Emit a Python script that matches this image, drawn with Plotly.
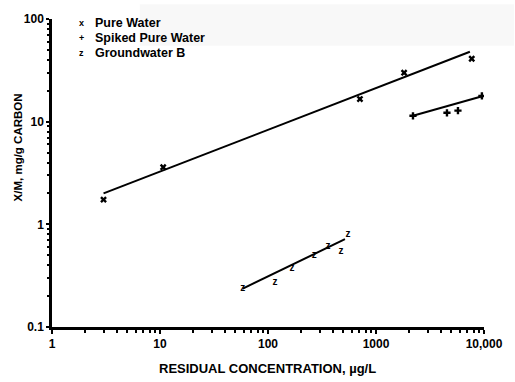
import plotly.graph_objects as go

# ---- data ----
pure_x = [3.0, 10.7, 710, 1820, 7700]
pure_y = [1.74, 3.6, 16.6, 30, 41]
pure_fit_x = [3.0, 7400]
pure_fit_y = [2.0, 48]

spiked_x = [2200, 4540, 5740, 9560]
spiked_y = [11.4, 12.2, 12.8, 17.8]
spiked_fit_x = [2200, 9800]
spiked_fit_y = [11.4, 17.8]

gw_x = [58.5, 116, 167, 268, 359, 474, 550]
gw_y = [0.237, 0.271, 0.369, 0.492, 0.614, 0.538, 0.80]
gw_fit_x = [58.5, 516]
gw_fit_y = [0.237, 0.717]

x_tickvals = [1, 10, 100, 1000, 10000]
x_ticktext = ["1", "10", "100", "1000", "10,000"]
y_tickvals = [0.1, 1, 10, 100]
y_ticktext = ["0.1", "1", "10", "100"]

legend_symbols = ["x", "+", "z"]
legend_labels = ["Pure Water", "Spiked Pure Water", "Groundwater B"]

x_minor = [m * d for d in [1, 10, 100, 1000] for m in range(2, 10)]
y_minor = [m * d for d in [0.1, 1, 10] for m in range(2, 10)]

FONT = "Liberation Sans, Arial, Helvetica, sans-serif"

fig = go.Figure()
line_style = dict(color="black", width=2)
fig.add_trace(go.Scatter(x=pure_fit_x, y=pure_fit_y, mode="lines", line=line_style, showlegend=False))
fig.add_trace(go.Scatter(x=spiked_fit_x, y=spiked_fit_y, mode="lines", line=line_style, showlegend=False))
fig.add_trace(go.Scatter(x=gw_fit_x, y=gw_fit_y, mode="lines", line=line_style, showlegend=False))

fig.add_trace(go.Scatter(x=pure_x, y=pure_y, mode="markers",
                         marker=dict(symbol="x", size=6, color="black"), showlegend=False))
fig.add_trace(go.Scatter(x=spiked_x, y=spiked_y, mode="markers",
                         marker=dict(symbol="cross", size=6, color="black"), showlegend=False))
fig.add_trace(go.Scatter(x=gw_x, y=gw_y, mode="text", text=["z"] * len(gw_x),
                         textfont=dict(family=FONT, size=10, color="black", weight="bold"),
                         showlegend=False))

# legend drawn as text
px0, py0, pw, ph = 52, 327, 433, 312
def px(x):
    return (x - px0) / pw
def py(y):
    return (py0 - y) / ph

annotations = []
rows_y = [19, 34, 49]
for sym, lab, ry in zip(legend_symbols, legend_labels, rows_y):
    annotations.append(dict(x=px(82), y=py(ry), xref="paper", yref="paper", text=sym,
                            showarrow=False, xanchor="center", yanchor="middle",
                            font=dict(family=FONT, size=9, color="black", weight="bold")))
    annotations.append(dict(x=px(93), y=py(ry), xref="paper", yref="paper", text=lab,
                            showarrow=False, xanchor="left", yanchor="middle",
                            font=dict(family=FONT, size=12.5, color="black", weight="bold")))

annotations.append(dict(x=px(268), y=py(369), xref="paper", yref="paper",
                        text="RESIDUAL CONCENTRATION, µg/L", showarrow=False,
                        xanchor="center", yanchor="middle",
                        font=dict(family=FONT, size=13, color="black", weight="bold")))
annotations.append(dict(x=px(18), y=py(145), xref="paper", yref="paper",
                        text="X/M, mg/g CARBON", showarrow=False, textangle=-90,
                        xanchor="center", yanchor="middle",
                        font=dict(family=FONT, size=11.5, color="black", weight="bold")))

fig.update_layout(
    width=515, height=382,
    margin=dict(l=52, r=30, t=15, b=55),
    paper_bgcolor="white", plot_bgcolor="white",
    showlegend=False,
    annotations=annotations,
    shapes=[dict(type="rect", xref="paper", yref="paper", x0=px(140), x1=px(515),
                 y0=py(42), y1=py(0), fillcolor="#f8f8f8", line=dict(width=0), layer="below")],
    xaxis=dict(type="log", range=[0, 4], tickmode="array", tickvals=x_tickvals, ticktext=x_ticktext,
               showgrid=False, zeroline=False, showline=True, linecolor="black", linewidth=2.5,
               ticks="outside", ticklen=4, tickwidth=2, tickcolor="black",
               tickfont=dict(family=FONT, size=12, color="black", weight="bold"),
               minor=dict(tickmode="array", tickvals=x_minor, ticks="outside", ticklen=3,
                          tickwidth=1.5, tickcolor="black", showgrid=False)),
    yaxis=dict(type="log", range=[-1, 2], tickmode="array", tickvals=y_tickvals, ticktext=y_ticktext,
               showgrid=False, zeroline=False, showline=True, linecolor="black", linewidth=2.5,
               ticks="outside", ticklen=3, tickwidth=2, tickcolor="black",
               tickfont=dict(family=FONT, size=12, color="black", weight="bold"),
               minor=dict(tickmode="array", tickvals=y_minor, ticks="outside", ticklen=2,
                          tickwidth=1.5, tickcolor="black", showgrid=False)),
)

fig.write_html("out.html")
